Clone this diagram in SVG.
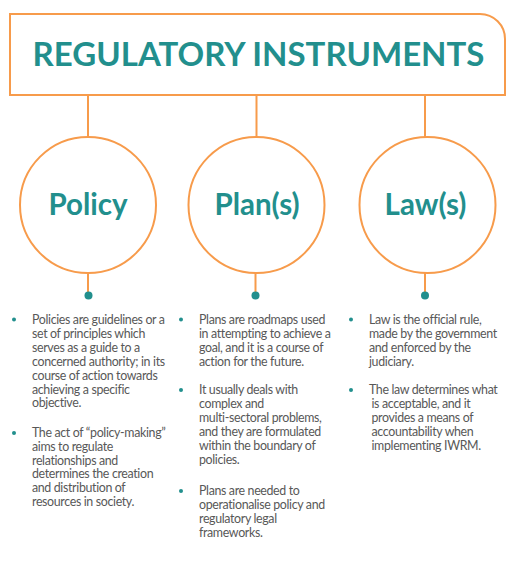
<svg xmlns="http://www.w3.org/2000/svg" width="517" height="568" viewBox="0 0 517 568">
<style>
.ln{stroke:#F79B4B;stroke-width:2;fill:none}
.title{font-family:Lato,"Open Sans",sans-serif;font-weight:700;font-size:33px;fill:#228F8D;text-anchor:middle}
.lbl{font-family:Lato,"Open Sans",sans-serif;font-weight:700;font-size:29.5px;fill:#228F8D;text-anchor:middle}
.dot{fill:#228F8D}
.bul{fill:#228F8D}
.tx{font-family:Lato,"Open Sans",sans-serif;font-size:12.4px;fill:#585858;letter-spacing:-0.35px}
</style>
<rect width="517" height="568" fill="#fff"/>
<g id="title">
<path class="ln" d="M10,14 H480 A25,25 0 0 1 505,39 V95 H10 Z"/>
<text class="title" x="258.5" y="65.5">REGULATORY INSTRUMENTS</text>
</g>
<g id="connectors">
<line class="ln" x1="88" y1="95" x2="88" y2="137"/>
<line class="ln" x1="256.5" y1="95" x2="256.5" y2="137"/>
<line class="ln" x1="425" y1="95" x2="425" y2="137"/>
<line class="ln" x1="88" y1="273" x2="88" y2="295"/>
<line class="ln" x1="255.5" y1="273" x2="255.5" y2="295"/>
<line class="ln" x1="425" y1="273" x2="425" y2="295"/>
<circle class="dot" cx="88.5" cy="295.5" r="4"/>
<circle class="dot" cx="255.5" cy="295.5" r="4"/>
<circle class="dot" cx="425" cy="295.5" r="4"/>
</g>
<g id="policy">
<circle class="ln" cx="88" cy="205" r="68"/>
<text class="lbl" x="88" y="214.5">Policy</text>
</g>
<g id="plans">
<circle class="ln" cx="256.5" cy="205" r="68"/>
<text class="lbl" x="257" y="214.5">Plan(s)</text>
</g>
<g id="laws">
<circle class="ln" cx="427.5" cy="205" r="68"/>
<text class="lbl" x="425.5" y="214.5">Law(s)</text>
</g>
<g id="policy-text">
<circle class="bul" cx="14" cy="319.5" r="2"/>
<text class="tx">
<tspan x="32" y="324">Policies are guidelines or a</tspan>
<tspan x="32" y="337.9">set of principles which</tspan>
<tspan x="32" y="351.8">serves as a guide to a</tspan>
<tspan x="32" y="365.7">concerned authority; in its</tspan>
<tspan x="32" y="379.6">course of action towards</tspan>
<tspan x="32" y="393.5">achieving a specific</tspan>
<tspan x="32" y="407.4">objective.</tspan>
</text>
<circle class="bul" cx="14" cy="433" r="2"/>
<text class="tx">
<tspan x="32" y="436.7">The act of “policy-making”</tspan>
<tspan x="32" y="450.6">aims to regulate</tspan>
<tspan x="32" y="464.5">relationships and</tspan>
<tspan x="32" y="478.4">determines the creation</tspan>
<tspan x="32" y="492.3">and distribution of</tspan>
<tspan x="32" y="506.2">resources in society.</tspan>
</text>
</g>
<g id="plans-text">
<circle class="bul" cx="181" cy="319.5" r="2"/>
<text class="tx">
<tspan x="199" y="324">Plans are roadmaps used</tspan>
<tspan x="199" y="337.9">in attempting to achieve a</tspan>
<tspan x="199" y="351.8">goal, and it is a course of</tspan>
<tspan x="199" y="365.7">action for the future.</tspan>
</text>
<circle class="bul" cx="181" cy="390" r="2"/>
<text class="tx">
<tspan x="199" y="394.3">It usually deals with</tspan>
<tspan x="199" y="408.2">complex and</tspan>
<tspan x="199" y="422.1">multi-sectoral problems,</tspan>
<tspan x="199" y="436">and they are formulated</tspan>
<tspan x="199" y="449.9">within the boundary of</tspan>
<tspan x="199" y="463.8">policies.</tspan>
</text>
<circle class="bul" cx="181" cy="491" r="2"/>
<text class="tx">
<tspan x="199" y="495">Plans are needed to</tspan>
<tspan x="199" y="508.9">operationalise policy and</tspan>
<tspan x="199" y="522.8">regulatory legal</tspan>
<tspan x="199" y="536.7">frameworks.</tspan>
</text>
</g>
<g id="laws-text">
<circle class="bul" cx="351" cy="319.5" r="2"/>
<text class="tx">
<tspan x="369" y="324">Law is the official rule,</tspan>
<tspan x="369" y="337.9">made by the government</tspan>
<tspan x="369" y="351.8">and enforced by the</tspan>
<tspan x="369" y="365.7">judiciary.</tspan>
</text>
<circle class="bul" cx="351" cy="390" r="2"/>
<text class="tx">
<tspan x="369" y="394.3">The law determines what</tspan>
<tspan x="371.5" y="408.2">is acceptable, and it</tspan>
<tspan x="371.5" y="422.1">provides a means of</tspan>
<tspan x="371.5" y="436">accountability when</tspan>
<tspan x="371.5" y="449.9">implementing IWRM.</tspan>
</text>
</g>
</svg>
